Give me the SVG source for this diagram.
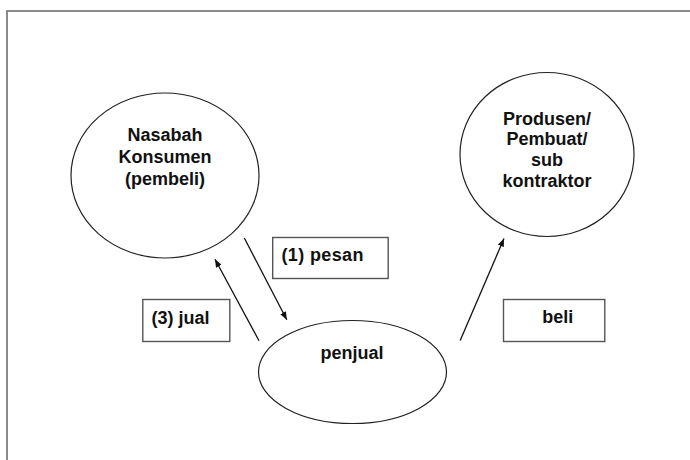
<svg xmlns="http://www.w3.org/2000/svg" width="690" height="460" viewBox="0 0 690 460">
<style>
.frame{fill:none;stroke:#8a8a8a;stroke-width:2}
.node{fill:#fff;stroke:#222;stroke-width:1.2}
.box{fill:#fff;stroke:#555;stroke-width:1.4}
.t{font-family:"Liberation Sans",Arial,sans-serif;font-weight:bold;font-size:18px;fill:#111}
.c{text-anchor:middle}
.edge{stroke:#111;stroke-width:1.3;fill:none}
</style>
<defs>
<marker id="ah" viewBox="0 0 10 8" refX="10" refY="4" markerWidth="8" markerHeight="6.4" markerUnits="userSpaceOnUse" orient="auto">
<path d="M0,0 L10,4 L0,8 Z" fill="#111"/>
</marker>
</defs>
<rect width="690" height="460" fill="#fff"/>
<path class="frame" d="M7,470 L7,11 L700,11"/>
<g id="nasabah">
<ellipse class="node" cx="165" cy="175.5" rx="94" ry="82.5"/>
<text class="t c" x="165" y="141">Nasabah</text>
<text class="t c" x="165" y="163">Konsumen</text>
<text class="t c" x="165" y="185">(pembeli)</text>
</g>
<g id="produsen">
<ellipse class="node" cx="547" cy="154.5" rx="87" ry="82"/>
<text class="t c" x="547" y="124.5">Produsen/</text>
<text class="t c" x="547" y="145.3">Pembuat/</text>
<text class="t c" x="547" y="166.1">sub</text>
<text class="t c" x="547" y="186.9">kontraktor</text>
</g>
<g id="penjual">
<ellipse class="node" cx="352.5" cy="372" rx="94" ry="51.5"/>
<text class="t c" x="352" y="358.5">penjual</text>
</g>
<g id="label-pesan">
<rect class="box" x="272.7" y="237.5" width="115.5" height="41"/>
<text class="t" x="281.5" y="261" textLength="82" lengthAdjust="spacing">(1) pesan</text>
</g>
<g id="label-jual">
<rect class="box" x="142.8" y="299.5" width="87" height="42"/>
<text class="t" x="151.5" y="323.5">(3) jual</text>
</g>
<g id="label-beli">
<rect class="box" x="503.5" y="299.5" width="101.3" height="42"/>
<text class="t c" x="557.7" y="322.5">beli</text>
</g>
<g id="connectors">
<line class="edge" x1="244.3" y1="238" x2="286.8" y2="319.8" marker-end="url(#ah)"/>
<line class="edge" x1="259" y1="340.7" x2="215" y2="259.3" marker-end="url(#ah)"/>
<line class="edge" x1="460.2" y1="340.5" x2="504" y2="238.5" marker-end="url(#ah)"/>
</g>
</svg>
